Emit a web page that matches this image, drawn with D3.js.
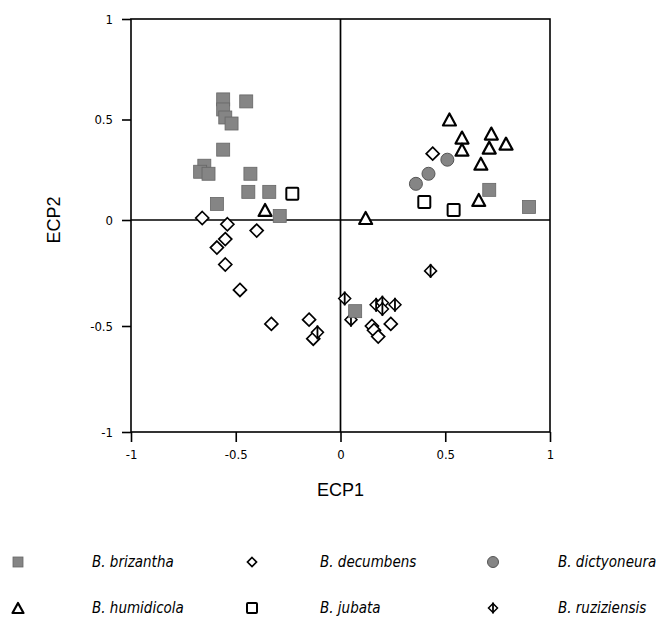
<!DOCTYPE html>
<html>
<head>
<meta charset="utf-8">
<script src="https://cdn.jsdelivr.net/npm/d3@7"></script>
<style>
  body { margin: 0; background: #fff; }
  svg { display: block; }
  .tick-label { font-family: "DejaVu Sans", sans-serif; font-stretch: condensed; font-size: 13px; }
  .axis-title { font-family: "Liberation Sans", Arial, sans-serif; font-size: 18px; }
  .legend-label { font-family: "DejaVu Sans", sans-serif; font-stretch: condensed; font-size: 15px; font-style: italic; }
</style>
</head>
<body>
<div id="chart"></div>
<script>
// ECP1 / ECP2 scores, one array per species
const brizantha = [
  [-0.56, 0.60], [-0.56, 0.55], [-0.55, 0.51], [-0.52, 0.48], [-0.45, 0.59],
  [-0.56, 0.35], [-0.65, 0.27], [-0.67, 0.24], [-0.63, 0.23], [-0.59, 0.08],
  [-0.43, 0.23], [-0.44, 0.14], [-0.34, 0.14], [-0.29, 0.02], [0.71, 0.15],
  [0.90, 0.065], [0.07, -0.43]
];
const decumbens = [
  [-0.66, 0.01], [0.44, 0.33], [-0.54, -0.02], [-0.40, -0.05], [-0.55, -0.09],
  [-0.59, -0.13], [-0.55, -0.21], [-0.48, -0.33], [-0.33, -0.49], [-0.15, -0.47],
  [-0.13, -0.56], [0.15, -0.50], [0.16, -0.52], [0.18, -0.55], [0.24, -0.49]
];
const dictyoneura = [[0.36, 0.18], [0.42, 0.23], [0.51, 0.30]];
const humidicola = [
  [0.52, 0.50], [0.58, 0.41], [0.58, 0.35], [0.72, 0.43], [0.79, 0.38],
  [0.71, 0.36], [0.67, 0.28], [0.66, 0.10], [0.12, 0.01], [-0.36, 0.05]
];
const jubata = [[-0.23, 0.13], [0.40, 0.09], [0.54, 0.05]];
const ruziziensis = [
  [0.02, -0.37], [0.05, -0.47], [0.17, -0.40], [0.20, -0.39], [0.20, -0.42],
  [0.26, -0.40], [0.43, -0.24], [-0.11, -0.53]
];

const xTicks = [-1, -0.5, 0, 0.5, 1];
const yTicks = [-1, -0.5, 0, 0.5, 1];
const tickText = {"-1": "-1", "-0.5": "-0.5", "0": "0", "0.5": "0.5", "1": "1"};

const speciesNames = ["B. brizantha", "B. decumbens", "B. dictyoneura",
                      "B. humidicola", "B. jubata", "B. ruziziensis"];
const speciesShapes = ["fsquare", "diamond", "circle", "triangle", "osquare", "phi"];

const W = 668, H = 631;
const svg = d3.select('#chart').append('svg')
    .attr('width', W)
    .attr('height', H);

// the scanned figure is slightly stretched below zero, so a 3-stop scale
const x = d3.scaleLinear().domain([-1, 1]).range([131, 550]);
const y = d3.scaleLinear().domain([-1, 0, 1]).range([432, 220, 19]);

// frame
svg.append('rect')
    .attr('x', x(-1)).attr('y', y(1))
    .attr('width', x(1) - x(-1)).attr('height', y(-1) - y(1))
    .attr('fill', 'none').attr('stroke', '#000').attr('stroke-width', 1.6);

// zero lines
svg.append('line')
    .attr('x1', x(0)).attr('x2', x(0)).attr('y1', y(1)).attr('y2', y(-1))
    .attr('stroke', '#000').attr('stroke-width', 1.7);
svg.append('line')
    .attr('x1', x(-1)).attr('x2', x(1)).attr('y1', y(0)).attr('y2', y(0))
    .attr('stroke', '#000').attr('stroke-width', 1.4);

const xAxis = d3.axisBottom(x).tickValues(xTicks).tickSize(10).tickPadding(8)
    .tickFormat(d => tickText[d]);
const yAxis = d3.axisLeft(y).tickValues(yTicks).tickSize(9).tickPadding(9)
    .tickFormat(d => tickText[d]);

const gx = svg.append('g').attr('transform', `translate(0,${y(-1)})`).call(xAxis);
const gy = svg.append('g').attr('transform', `translate(${x(-1)},0)`).call(yAxis);
[gx, gy].forEach(g => {
    g.select('.domain').remove();
    g.selectAll('.tick line').attr('stroke', '#000').attr('stroke-width', 1.6);
    g.selectAll('.tick text').attr('class', 'tick-label').attr('fill', '#000');
});

svg.append('text')
    .attr('class', 'axis-title')
    .attr('x', x(0)).attr('y', 496)
    .attr('text-anchor', 'middle')
    .text('ECP1');
svg.append('text')
    .attr('class', 'axis-title')
    .attr('transform', `translate(60,${y(0)}) rotate(-90)`)
    .attr('text-anchor', 'middle')
    .text('ECP2');

// marker drawing
const GRAY = '#858585';
function drawMarker(sel, shape, s) {
    const h = s / 2;
    if (shape === 'fsquare') {
        sel.append('rect').attr('x', -h).attr('y', -h).attr('width', s).attr('height', s)
            .attr('fill', GRAY).attr('stroke', '#666').attr('stroke-width', 0.8);
    } else if (shape === 'osquare') {
        sel.append('rect').attr('x', -h).attr('y', -h).attr('width', s).attr('height', s)
            .attr('rx', 1).attr('fill', '#fff').attr('stroke', '#000').attr('stroke-width', 2);
    } else if (shape === 'circle') {
        sel.append('circle').attr('r', h + 0.5)
            .attr('fill', GRAY).attr('stroke', '#555').attr('stroke-width', 1);
    } else if (shape === 'triangle') {
        sel.append('path').attr('d', `M0,${-h}L${h + 0.5},${h}L${-h - 0.5},${h}Z`)
            .attr('fill', '#fff').attr('stroke', '#000').attr('stroke-width', 2.2)
            .attr('stroke-linejoin', 'round');
    } else if (shape === 'diamond') {
        sel.append('path').attr('d', `M0,${-h}L${h},0L0,${h}L${-h},0Z`)
            .attr('fill', '#fff').attr('stroke', '#000').attr('stroke-width', 1.7);
    } else if (shape === 'phi') {
        sel.append('path').attr('d', `M0,${-h}L${h},0L0,${h}L${-h},0Z`)
            .attr('fill', '#fff').attr('stroke', '#000').attr('stroke-width', 1.5);
        sel.append('line').attr('x1', 0).attr('x2', 0).attr('y1', -h - 1).attr('y2', h + 1)
            .attr('stroke', '#000').attr('stroke-width', 1.8);
    }
}

const seriesData = [brizantha, decumbens, dictyoneura, humidicola, jubata, ruziziensis];
const drawOrder = [1, 5, 3, 4, 2, 0];
const markerSize = {fsquare: 13, osquare: 12, circle: 12, triangle: 12, diamond: 13, phi: 12};

const pts = svg.append('g').attr('class', 'points');
drawOrder.forEach(i => {
    const shape = speciesShapes[i];
    pts.append('g').selectAll('g')
        .data(seriesData[i])
        .enter().append('g')
        .attr('transform', d => `translate(${x(d[0])},${y(d[1])})`)
        .each(function() { drawMarker(d3.select(this), shape, markerSize[shape]); });
});

// legend: two rows of three
const legendSymX = [18, 252, 493];
const legendTextX = [92, 320, 558];
const legendRowY = [562, 608];
const legendSize = {fsquare: 10, osquare: 10, circle: 10, triangle: 10, diamond: 9, phi: 9};

const legend = svg.append('g').attr('class', 'legend');
speciesNames.forEach((name, i) => {
    const col = i % 3, row = Math.floor(i / 3);
    const item = legend.append('g');
    const sym = item.append('g').attr('transform', `translate(${legendSymX[col]},${legendRowY[row]})`);
    drawMarker(sym, speciesShapes[i], legendSize[speciesShapes[i]]);
    item.append('text')
        .attr('class', 'legend-label')
        .attr('x', legendTextX[col])
        .attr('y', legendRowY[row] + 5)
        .text(name);
});
</script>
</body>
</html>
